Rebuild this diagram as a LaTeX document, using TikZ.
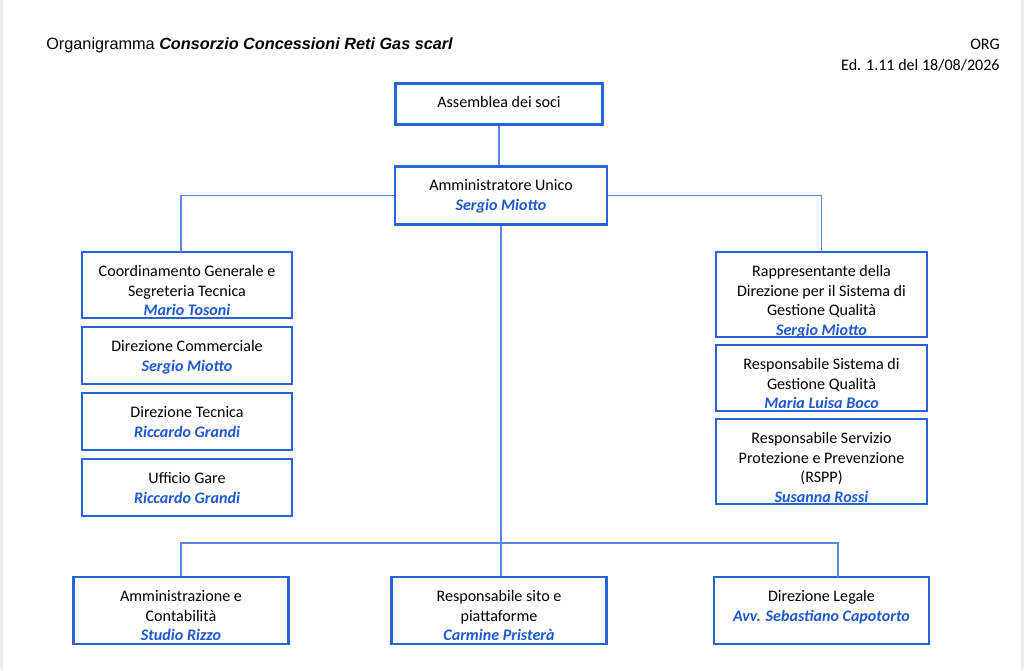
\documentclass[tikz,border=0pt]{standalone}
\usepackage{fontspec}
\setmainfont{Carlito}
\newfontfamily\headfont{Liberation Sans}
\definecolor{boxblue}{RGB}{42,98,216}
\definecolor{linkblue}{RGB}{88,134,226}
\definecolor{nameblue}{RGB}{30,88,208}
\newcommand{\pxl}{0.02cm}
\newcommand{\who}[1]{{\color{nameblue}\bfseries\itshape #1}}
% box text, top aligned in a w x h (px) box
\newcommand{\cell}[3]{%
    \pgfmathsetlengthmacro\cellw{#1*\pxl}%
    \pgfmathsetlengthmacro\cellh{#2*\pxl}%
    \parbox[c][\cellh][t]{\cellw}{\centering\rule{0pt}{13.8pt}#3}}
\begin{document}
\begin{tikzpicture}[
    x=0.02cm, y=-0.02cm,
    box/.style ={
        draw=boxblue,
        line width=1.15pt,
        fill=white,
        inner sep=0pt,
        font=\fontsize{9.15}{11.3}\selectfont
    },
    link/.style ={
        draw=linkblue,
        line width=0.6pt
    },
    head/.style ={
        inner sep=0pt,
        font=\fontsize{9.15}{11.3}\selectfont
    }
    ]
    \useasboundingbox (0,0) rectangle (1024,670);
    \fill[black!7] (0,0) rectangle (1024,670);
    \fill[white] (3,0) rectangle (1021,670);

    % header
    \node[head, anchor=base west, font=\headfont\fontsize{9.25}{11.3}\selectfont] (title) at (46,49.5)
        {Organigramma \textbf{\textit{Consorzio Concessioni Reti Gas scarl}}};
    \node[head, anchor=base east] (code) at (1000,49.5) {ORG};
    \node[head, anchor=base east] (edit) at (1000,70) {Ed. 1.11 del 18/08/2026};

    % top
    \node[box] (ass) at (499,104) {\cell{207}{41}{Assemblea dei soci}};
    \node[box] (amm) at (501,195.5) {\cell{212}{58}{Amministratore Unico\\ \who{Sergio Miotto}}};

    % left column
    \foreach \n/ \y/ \h/ \txt in {
            cgs/285/66/{Coordinamento Generale e\\ Segreteria Tecnica\\ \who{Mario Tosoni}},
            dcm/355.5/57/{Direzione Commerciale\\ \who{Sergio Miotto}},
            dtc/421.5/57/{Direzione Tecnica\\ \who{Riccardo Grandi}},
            uga/487.5/57/{Ufficio Gare\\ \who{Riccardo Grandi}}}
        \node[box] (\n) at (187,\y) {\cell{210}{\h}{\txt}};

    % right column
    \foreach \n/ \y/ \h/ \txt in {
            rdq/294.5/85/{Rappresentante della\\ Direzione per il Sistema di\\ Gestione Qualità\\ \who{Sergio Miotto}},
            rsq/378/66/{Responsabile Sistema di\\ Gestione Qualità\\ \who{Maria Luisa Boco}},
            rsp/461.5/85/{Responsabile Servizio\\ Protezione e Prevenzione\\ (RSPP)\\ \who{Susanna Rossi}}}
        \node[box] (\n) at (821.5,\y) {\cell{211}{\h}{\txt}};

    % bottom row
    \foreach \n/ \x/ \txt in {
            amc/181/{Amministrazione e\\ Contabilità\\ \who{Studio Rizzo}},
            rsi/499/{Responsabile sito e\\ piattaforme\\ \who{Carmine Pristerà}},
            dle/821.5/{Direzione Legale\\ \who{Avv. Sebastiano Capotorto}}}
        \node[box] (\n) at (\x,610.5) {\cell{215}{67}{\txt}};

    \coordinate (cgsin) at (181,252);
    \coordinate (bus) at (501,543);
    \coordinate (dlein) at (838,577);

    \draw[link] (ass.south) -- (ass.south |- amm.north);
    \draw[link] (amm.west) -| (cgsin);
    \draw[link] (amm.east) -| (rdq.north);
    \draw[link] (amm.south) -- (amm.south |- rsi.north);
    \draw[link] (amc.north) |- (bus) -| (dlein);

\end{tikzpicture}
\end{document}
